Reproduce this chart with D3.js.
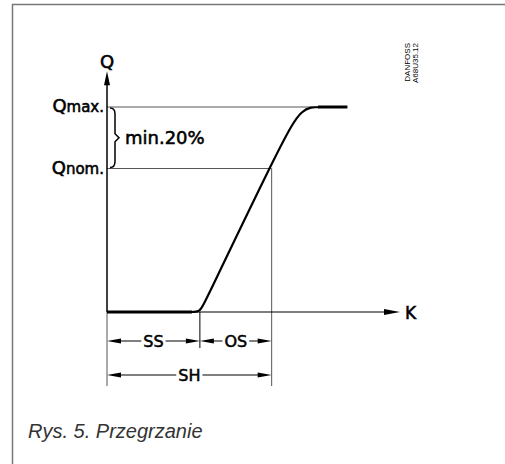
<!DOCTYPE html>
<html>
<head>
<meta charset="utf-8">
<script src="https://cdn.jsdelivr.net/npm/d3@7"></script>
<style>
  body { margin: 0; background: #fff; }
  svg text { font-family: "DejaVu Sans", sans-serif; fill: #000; }
  svg text.lbl { stroke: #000; stroke-width: 0.55px; }
</style>
</head>
<body>
<div id="chart"></div>
<script>
// characteristic: superheat K (x) vs capacity Q (y), in relative units
// (control points; rounded corners come from the basis curve)
const curvePoints = [[0, 0], [0, 0], [29, 0], [31.7, 0], [33.5, 5], [60, 84], [66.6, 100], [72.5, 100], [82, 100], [82, 100]];
const qLevels = [
  { name: "max.", value: 100 },
  { name: "nom.", value: 70 }
];
const ssEnd = 31.7;   // static superheat
const shEnd = 56.2;   // total superheat at Qnom
const dims = [
  { label: "SS", from: 0, to: ssEnd, row: 0 },
  { label: "OS", from: ssEnd, to: shEnd, row: 0 },
  { label: "SH", from: 0, to: shEnd, row: 1 }
];
const braceLabel = "min.20%";
const caption = "Rys. 5. Przegrzanie";
const stamp = ["DANFOSS", "A68U35.12"];

const W = 505, H = 464;
const svg = d3.select("#chart").append("svg")
  .attr("width", W).attr("height", H);

const x = d3.scaleLinear().domain([0, 100]).range([107, 400]);
const y = d3.scaleLinear().domain([0, 100]).range([312, 107]);

// frame
svg.append("path")
  .attr("d", `M12.5,${H} L12.5,4.5 L${W},4.5`)
  .attr("fill", "none").attr("stroke", "#777").attr("stroke-width", 1.5);

function arrowHead(tx, ty, dir, len, half) {
  let p;
  if (dir === "up") p = [[tx, ty], [tx - half, ty + len], [tx + half, ty + len]];
  else if (dir === "right") p = [[tx, ty], [tx - len, ty - half], [tx - len, ty + half]];
  else p = [[tx, ty], [tx + len, ty - half], [tx + len, ty + half]];
  svg.append("path").attr("d", "M" + p.join("L") + "Z").attr("fill", "#000");
}

const dimRowY = [341, 375];
const extBottom = 386;

// thin guide lines
const qmax = qLevels[0].value, qnom = qLevels[1].value;
svg.append("line")
  .attr("x1", x(0)).attr("x2", x(71)).attr("y1", y(qmax)).attr("y2", y(qmax))
  .attr("stroke", "#555").attr("stroke-width", 1);
svg.append("line")
  .attr("x1", x(0)).attr("x2", x(shEnd)).attr("y1", y(qnom)).attr("y2", y(qnom))
  .attr("stroke", "#555").attr("stroke-width", 1);
svg.append("line")
  .attr("x1", x(shEnd)).attr("x2", x(shEnd)).attr("y1", y(qnom)).attr("y2", extBottom)
  .attr("stroke", "#555").attr("stroke-width", 1);
svg.append("line")
  .attr("x1", x(ssEnd)).attr("x2", x(ssEnd)).attr("y1", y(0)).attr("y2", 348)
  .attr("stroke", "#000").attr("stroke-width", 1);
svg.append("line")
  .attr("x1", x(0)).attr("x2", x(0)).attr("y1", y(0)).attr("y2", extBottom)
  .attr("stroke", "#555").attr("stroke-width", 1);

// axes
svg.append("line")
  .attr("x1", x(0)).attr("x2", x(0)).attr("y1", y(0)).attr("y2", y(112))
  .attr("stroke", "#000").attr("stroke-width", 1.5);
arrowHead(x(0), y(117.5), "up", 14, 3);
svg.append("line")
  .attr("x1", x(0)).attr("x2", x(95)).attr("y1", y(0)).attr("y2", y(0))
  .attr("stroke", "#000").attr("stroke-width", 1.2);
arrowHead(x(100), y(0), "right", 16, 3);

svg.append("text").attr("class", "lbl").attr("x", x(0)).attr("y", 68)
  .attr("text-anchor", "middle").style("font-size", "18px").text("Q");
svg.append("text").attr("class", "lbl").attr("x", x(100) + 5).attr("y", 319)
  .style("font-size", "17px").text("K");

// characteristic curve
const line = d3.line()
  .x(d => x(d[0])).y(d => y(d[1]))
  .curve(d3.curveBasis);
svg.append("path")
  .attr("d", line(curvePoints))
  .attr("fill", "none").attr("stroke", "#000").attr("stroke-width", 2.2);
svg.append("line")
  .attr("x1", x(0)).attr("x2", x(29)).attr("y1", y(0)).attr("y2", y(0))
  .attr("stroke", "#000").attr("stroke-width", 3);
svg.append("line")
  .attr("x1", x(72)).attr("x2", x(82)).attr("y1", y(100)).attr("y2", y(100))
  .attr("stroke", "#000").attr("stroke-width", 3);

// Q labels
qLevels.forEach(q => {
  const t = svg.append("text").attr("class", "lbl")
    .attr("x", x(0) - 3).attr("y", y(q.value) + 5)
    .attr("text-anchor", "end");
  t.append("tspan").style("font-size", "18px").text("Q");
  t.append("tspan").style("font-size", "15px").text(q.name);
});

// brace between Qmax and Qnom
const bx = x(0) + 3, y1 = y(qmax) + 1, y2 = y(qnom) - 1, ym = (y1 + y2) / 2;
svg.append("path")
  .attr("d", `M${bx},${y1} Q${bx + 5},${y1} ${bx + 5},${y1 + 6} L${bx + 5},${ym - 4} L${bx + 9},${ym} L${bx + 5},${ym + 4} L${bx + 5},${y2 - 6} Q${bx + 5},${y2} ${bx},${y2}`)
  .attr("fill", "none").attr("stroke", "#000").attr("stroke-width", 1.5);
svg.append("text").attr("class", "lbl").attr("x", bx + 15).attr("y", ym + 6.5)
  .style("font-size", "18px").text(braceLabel);

// dimension lines
dims.forEach(d => {
  const yy = dimRowY[d.row];
  const x1 = x(d.from), x2 = x(d.to), xm = (x1 + x2) / 2;
  const t = svg.append("text").attr("class", "lbl")
    .attr("x", xm).attr("y", yy + 6)
    .attr("text-anchor", "middle")
    .style("font-size", "16px")
    .text(d.label);
  const half = t.node().getComputedTextLength() / 2 + 2;
  svg.append("line").attr("x1", x1 + 10).attr("x2", xm - half).attr("y1", yy).attr("y2", yy)
    .attr("stroke", "#000").attr("stroke-width", 1);
  svg.append("line").attr("x1", xm + half).attr("x2", x2 - 10).attr("y1", yy).attr("y2", yy)
    .attr("stroke", "#000").attr("stroke-width", 1);
  arrowHead(x1, yy, "left", 14, 2.5);
  arrowHead(x2, yy, "right", 14, 2.5);
});

// drawing stamp
stamp.forEach((s, i) => {
  svg.append("text")
    .attr("transform", `translate(${410 + i * 8},43) rotate(-90)`)
    .attr("text-anchor", "end")
    .style("font-family", "'Liberation Sans', Arial, sans-serif")
    .style("font-size", "8px").text(s);
});

// caption
svg.append("text").attr("x", 28).attr("y", 438)
  .style("font-family", "'Liberation Sans', Arial, sans-serif")
  .style("font-style", "italic").style("font-size", "20px").style("fill", "#333")
  .text(caption);
</script>
</body>
</html>
